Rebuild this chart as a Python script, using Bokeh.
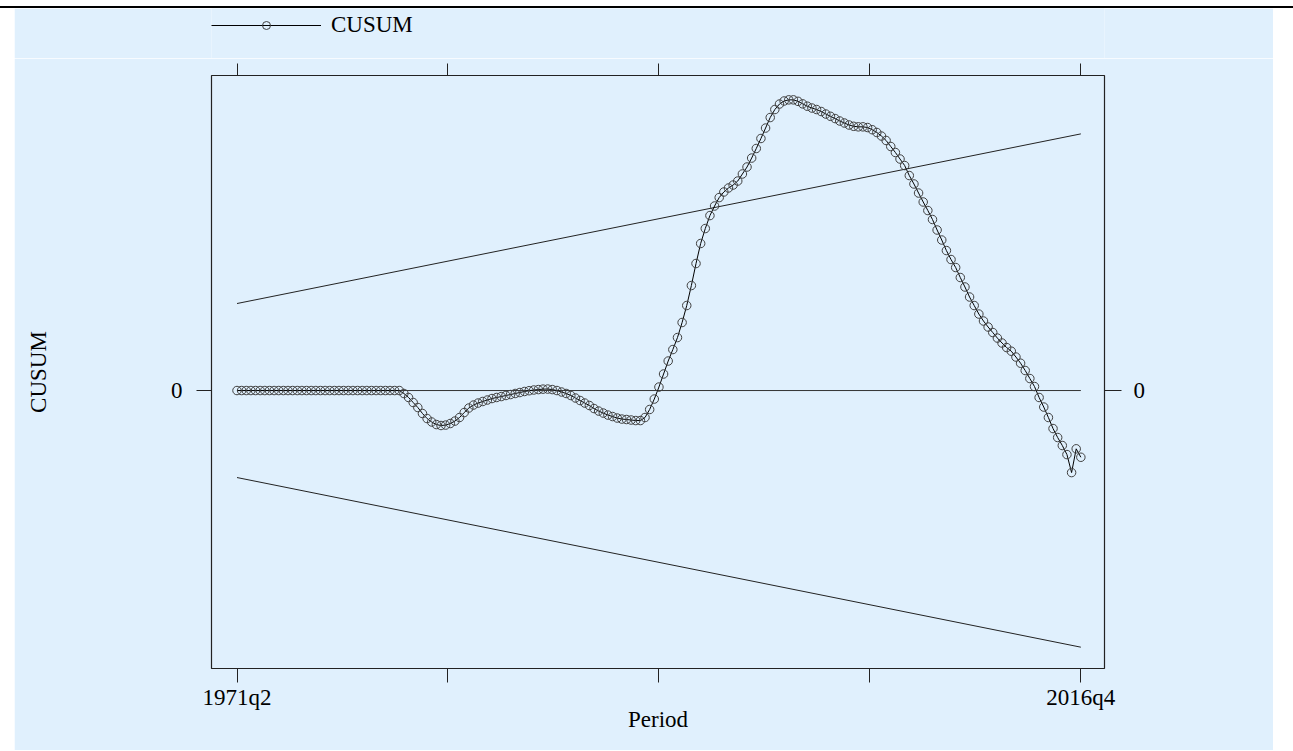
from bokeh.plotting import figure
from bokeh.models import (Range1d, LinearAxis, FixedTicker, Legend, LegendItem,
                          ColumnDataSource, Spacer)
from bokeh.layouts import row, column
from bokeh.embed import file_html
from bokeh.resources import INLINE

# ---- data ----
start_label = "1971q2"
end_label = "2016q4"
x_label = "Period"
y_label = "CUSUM"
series_name = "CUSUM"

cusum = [
    0, 0, 0, 0, 0, 0, 0, 0, 0, 0,
    0, 0, 0, 0, 0, 0, 0, 0, 0, 0,
    0, 0, 0, 0, 0, 0, 0, 0, 0, 0,
    0, 0, 0, 0, 0, 0, -0.34, -0.80, -1.38, -1.95,
    -2.64, -3.22, -3.62, -3.91, -4.02, -3.97, -3.79, -3.51, -3.10, -2.53,
    -2.01, -1.67, -1.44, -1.26, -1.09, -0.92, -0.80, -0.69, -0.57, -0.46,
    -0.34, -0.23, -0.11, -0.02, 0.06, 0.11, 0.16, 0.17, 0.11, 0.00,
    -0.17, -0.34, -0.57, -0.86, -1.15, -1.44, -1.72, -2.07, -2.36, -2.59,
    -2.82, -2.99, -3.16, -3.28, -3.33, -3.39, -3.45, -3.45, -3.10, -2.18,
    -0.98, 0.40, 1.90, 3.39, 4.71, 6.09, 7.82, 9.77, 12.07, 14.60,
    16.90, 18.62, 20.11, 21.21, 22.18, 22.82, 23.28, 23.62, 24.08, 24.89,
    25.69, 26.72, 27.82, 28.97, 30.17, 31.38, 32.30, 32.93, 33.28, 33.41,
    33.41, 33.24, 32.95, 32.68, 32.47, 32.30, 32.07, 31.78, 31.52, 31.26,
    30.98, 30.75, 30.52, 30.37, 30.31, 30.31, 30.23, 29.98, 29.66, 29.25,
    28.74, 28.05, 27.36, 26.61, 25.86, 24.71, 23.74, 22.70, 21.67, 20.69,
    19.66, 18.45, 17.30, 16.09, 15.06, 14.14, 12.99, 11.90, 10.75, 9.77,
    8.79, 7.99, 7.30, 6.67, 6.03, 5.46, 4.94, 4.52, 3.85, 3.14,
    2.30, 1.38, 0.46, -0.80, -1.90, -3.10, -4.37, -5.40, -6.32, -7.36,
    -9.43, -6.70, -7.67,
]
upper_bound = [10.0, 29.5]   # 5% bound at first and last period
lower_bound = [-10.0, -29.5]

n = len(cusum)
idx = list(range(n))
ends = [0, n - 1]
inner_ticks = [(n - 1) / 4, (n - 1) / 2, 3 * (n - 1) / 4]

BG = "#e0f0fd"
FONT = "Liberation Serif"
FS = "23px"
INK = "#222222"
MK = dict(marker="circle", size=8.5, fill_color=None,
          line_color="#404040", line_width=1)

# ---------- main plot ----------
p = figure(output_backend="svg", toolbar_location=None,
           width=1259, height=692,
           min_border_left=197, min_border_right=169,
           min_border_top=17, min_border_bottom=82,
           x_range=Range1d(-5.5, 187.1), y_range=Range1d(-31.95, 36.21),
           background_fill_color=BG, border_fill_color=BG,
           outline_line_color=INK, outline_line_width=1.2)
p.grid.visible = False

def style_axis(ax, tick_out, standoff):
    ax.axis_line_color = None
    ax.major_tick_in = 0
    ax.major_tick_out = tick_out
    ax.minor_tick_in = 0
    ax.minor_tick_out = tick_out
    ax.major_tick_line_color = INK
    ax.minor_tick_line_color = INK
    ax.major_label_text_font = FONT
    ax.major_label_text_font_size = FS
    ax.major_label_text_color = "black"
    ax.major_label_standoff = standoff
    ax.axis_label_text_font = FONT
    ax.axis_label_text_font_size = FS
    ax.axis_label_text_font_style = "normal"
    ax.axis_label_text_color = "black"

xa = p.xaxis[0]
xa.ticker = FixedTicker(ticks=ends, minor_ticks=inner_ticks)
xa.major_label_overrides = {0: start_label, n - 1: end_label}
xa.axis_label = x_label
style_axis(xa, 14, 2)
xa.axis_label_standoff = -6

ya = p.yaxis[0]
ya.ticker = FixedTicker(ticks=[0])
ya.axis_label = y_label
style_axis(ya, 15, 14)
ya.minor_tick_line_color = None
ya.axis_label_standoff = 117

ra = LinearAxis(ticker=FixedTicker(ticks=[0]))
style_axis(ra, 17, 12)
ra.minor_tick_line_color = None
p.add_layout(ra, "right")

ta = LinearAxis(ticker=FixedTicker(ticks=[], minor_ticks=ends[:1] + inner_ticks + ends[1:]))
style_axis(ta, 12, 0)
p.add_layout(ta, "above")

p.line(ends, [0, 0], line_color="#333333", line_width=1)
p.line(ends, upper_bound, line_color=INK, line_width=1)
p.line(ends, lower_bound, line_color=INK, line_width=1)

src = ColumnDataSource(dict(x=idx, y=cusum))
p.line("x", "y", source=src, line_color="black", line_width=1)
p.scatter("x", "y", source=src, **MK)

# ---------- legend strip above the plot (frame aligned with main plot) ----------
h = figure(output_backend="svg", toolbar_location=None,
           width=1259, height=50, min_border=0,
           x_axis_location=None, y_axis_location=None,
           x_range=Range1d(0, 1), y_range=Range1d(0, 1),
           background_fill_color=BG, border_fill_color=BG,
           outline_line_color=None)
h.grid.visible = False
nan = float("nan")
proxy = ColumnDataSource(dict(x=[nan], y=[nan]))   # legend key only, nothing plotted
hl = h.line("x", "y", source=proxy, line_color="black", line_width=1)
hs = h.scatter("x", "y", source=proxy, **MK)
leg = Legend(items=[LegendItem(label=series_name, renderers=[hl, hs])],
             location=(0, 20), orientation="horizontal",
             glyph_width=110, glyph_height=20, label_standoff=10,
             label_text_font=FONT, label_text_font_size=FS,
             label_text_color="black",
             border_line_color=None, background_fill_alpha=0,
             padding=0, margin=0, spacing=0)
h.add_layout(leg, "center")

topgap = Spacer(width=1293, height=6)
topbar = Spacer(width=1293, height=2, styles={"background-color": "black"})
layout = column(topgap, topbar,
                row(Spacer(width=14, height=742), column(h, p)))

open("out.html", "w").write(file_html(layout, INLINE))
